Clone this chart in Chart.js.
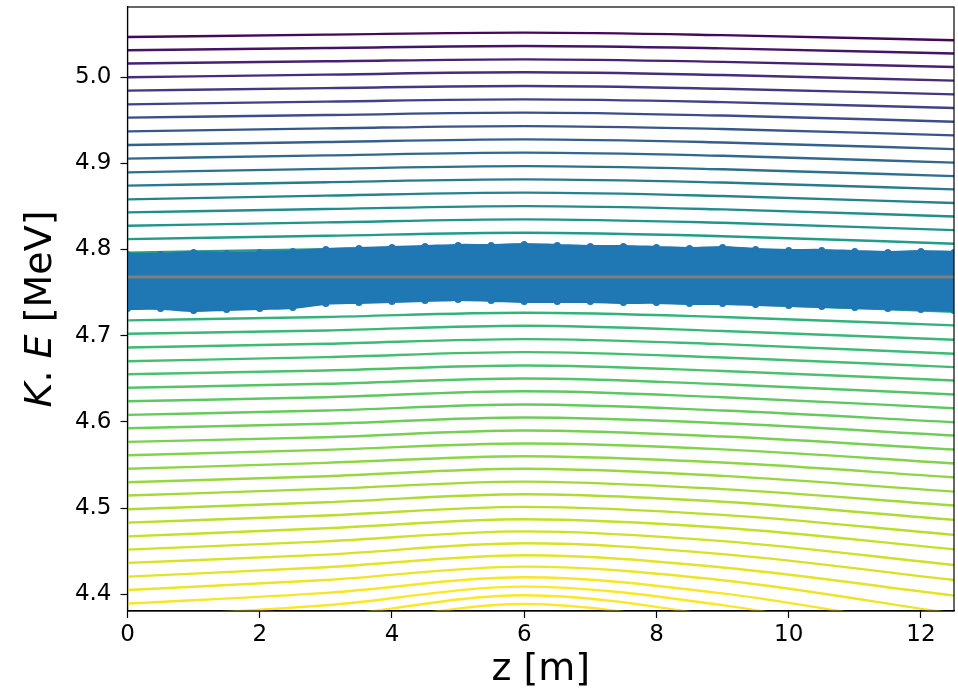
<!DOCTYPE html>
<html>
<head>
<meta charset="utf-8">
<script src="https://cdn.jsdelivr.net/npm/chart.js@4.4.1/dist/chart.umd.min.js"></script>
<style>
  html, body { margin: 0; padding: 0; background: #fff; }
</style>
</head>
<body>
<canvas id="chart" width="958" height="697"></canvas>
<script>
const Z_POINTS = [0, 3, 6, 9, 12.5];

// K.E [MeV] of every contour line (top to bottom) at each z position
const E_Z0 = [
  5.0464, 5.0310, 5.0156, 4.9997, 4.9842, 4.9683, 4.9529, 4.9370, 4.9211, 4.9053,
  4.8894, 4.8740, 4.8581, 4.8430, 4.8275, 4.8120, 4.7963, 4.7806, 4.7649, 4.7491,
  4.7334, 4.7177, 4.7022, 4.6863, 4.6704, 4.6553, 4.6396, 4.6240, 4.6082, 4.5927,
  4.5769, 4.5613, 4.5456, 4.5300, 4.5146, 4.4987, 4.4832, 4.4673, 4.4519, 4.4365,
  4.4206, 4.4051, 4.3892, 4.3730, 4.3567, 4.3405
];
const E_Z3 = [
  5.0492, 5.0337, 5.0182, 5.0028, 4.9871, 4.9715, 4.9559, 4.9404, 4.9247, 4.9091,
  4.8935, 4.8780, 4.8624, 4.8469, 4.8314, 4.8159, 4.8004, 4.7848, 4.7693, 4.7537,
  4.7382, 4.7217, 4.7061, 4.6906, 4.6751, 4.6596, 4.6442, 4.6286, 4.6132, 4.5978,
  4.5822, 4.5676, 4.5525, 4.5370, 4.5223, 4.5068, 4.4914, 4.4766, 4.4615, 4.4461,
  4.4314, 4.4167, 4.4017, 4.3873, 4.3741, 4.3614
];
const E_Z6 = [
  5.0515, 5.0360, 5.0205, 5.0055, 4.9896, 4.9741, 4.9587, 4.9431, 4.9277, 4.9123,
  4.8967, 4.8813, 4.8659, 4.8503, 4.8349, 4.8194, 4.8040, 4.7887, 4.7734, 4.7579,
  4.7425, 4.7266, 4.7115, 4.6960, 4.6809, 4.6654, 4.6503, 4.6356, 4.6202, 4.6051,
  4.5900, 4.5749, 4.5602, 4.5456, 4.5308, 4.5161, 4.5015, 4.4871, 4.4731, 4.4592,
  4.4453, 4.4322, 4.4198, 4.4090, 4.3989, 4.3889
];
const E_Z9 = [
  5.0486, 5.0332, 5.0176, 5.0023, 4.9864, 4.9709, 4.9553, 4.9397, 4.9241, 4.9086,
  4.8930, 4.8776, 4.8620, 4.8465, 4.8309, 4.8154, 4.7998, 4.7843, 4.7688, 4.7533,
  4.7377, 4.7217, 4.7055, 4.6902, 4.6747, 4.6591, 4.6437, 4.6286, 4.6132, 4.5985,
  4.5830, 4.5682, 4.5529, 4.5374, 4.5221, 4.5074, 4.4922, 4.4772, 4.4618, 4.4467,
  4.4312, 4.4164, 4.4011, 4.3875, 4.3736, 4.3602
];
const E_Z12_5 = [
  5.0426, 5.0272, 5.0116, 4.9958, 4.9799, 4.9640, 4.9482, 4.9323, 4.9164, 4.9007,
  4.8851, 4.8697, 4.8538, 4.8383, 4.8224, 4.8067, 4.7908, 4.7750, 4.7592, 4.7435,
  4.7278, 4.7119, 4.6953, 4.6790, 4.6635, 4.6480, 4.6318, 4.6159, 4.5996, 4.5842,
  4.5680, 4.5517, 4.5358, 4.5192, 4.5030, 4.4864, 4.4690, 4.4523, 4.4341, 4.4167,
  4.3985, 4.3776, 4.3579, 4.3382, 4.3184, 4.2987
];

// particle band: outer dots along the upper and lower edge
const BAND_Z = [0, 0.5, 1, 1.5, 2, 2.5, 3, 3.5, 4, 4.5, 5, 5.5, 6, 6.5, 7, 7.5, 8, 8.5, 9, 9.5, 10, 10.5, 11, 11.5, 12, 12.5];
const BAND_TOP = [
  4.7942, 4.7942, 4.7966, 4.7954, 4.7966, 4.7977, 4.8000, 4.8012, 4.8024, 4.8035,
  4.8047, 4.8047, 4.8058, 4.8047, 4.8035, 4.8035, 4.8024, 4.8012, 4.8024, 4.8000,
  4.7989, 4.7989, 4.7977, 4.7966, 4.7977, 4.7966
];
const BAND_BOTTOM = [
  4.7316, 4.7316, 4.7293, 4.7304, 4.7316, 4.7328, 4.7374, 4.7386, 4.7397, 4.7409,
  4.7420, 4.7409, 4.7397, 4.7397, 4.7397, 4.7386, 4.7386, 4.7374, 4.7374, 4.7362,
  4.7351, 4.7339, 4.7328, 4.7316, 4.7304, 4.7293
];

// synchronous (reference) energy line
const REF_Z = [0, 12.5];
const REF_E = [4.768, 4.768];

const X_TICKS = [0, 2, 4, 6, 8, 10, 12];
const Y_TICKS = [4.4, 4.5, 4.6, 4.7, 4.8, 4.9, 5.0];

const FONT = 'DejaVu Sans';

// viridis anchors, t = 0 .. 1 in steps of 0.1
const VIRIDIS = ['#440154', '#482475', '#414487', '#355f8d', '#2a788e', '#21918c',
                 '#22a884', '#44bf70', '#7ad151', '#bddf26', '#fde725'];

function viridis(t) {
  t = Math.max(0, Math.min(1, t));
  const p = t * 10, i = Math.min(9, Math.floor(p)), f = p - i;
  const a = VIRIDIS[i], b = VIRIDIS[i + 1];
  const ch = (h, o) => parseInt(h.substr(o, 2), 16);
  const mix = o => Math.round(ch(a, o) + (ch(b, o) - ch(a, o)) * f);
  return `rgb(${mix(1)},${mix(3)},${mix(5)})`;
}

// colour position of line k (colours change faster in the upper lines)
function lineColor(k) {
  return viridis(k <= 15 ? 0.02 + 0.0353 * k : 0.55 + (k - 15) * 0.0163);
}

const columns = [E_Z0, E_Z3, E_Z6, E_Z9, E_Z12_5];
const datasets = [];

// drawn on top: reference line, then the particle band
datasets.push({
  data: REF_Z.map((z, i) => ({ x: z, y: REF_E[i] })),
  borderColor: '#7f7f7f', borderWidth: 3, pointRadius: 0, fill: false, order: 0
});
datasets.push({
  data: BAND_Z.map((z, i) => ({ x: z, y: BAND_TOP[i] })),
  borderColor: '#1f77b4', backgroundColor: '#1f77b4', borderWidth: 3,
  pointRadius: 3.5, pointBackgroundColor: '#1f77b4', pointBorderWidth: 0,
  tension: 0.3, fill: '+1', order: 1
});
datasets.push({
  data: BAND_Z.map((z, i) => ({ x: z, y: BAND_BOTTOM[i] })),
  borderColor: '#1f77b4', borderWidth: 3,
  pointRadius: 3.5, pointBackgroundColor: '#1f77b4', pointBorderWidth: 0,
  tension: 0.3, fill: false, order: 1
});

E_Z0.forEach((_, k) => {
  datasets.push({
    data: Z_POINTS.map((z, j) => ({ x: z, y: columns[j][k] })),
    borderColor: lineColor(k), borderWidth: 2.4, pointRadius: 0,
    cubicInterpolationMode: 'monotone', fill: false, order: 2
  });
});

// frame round the plot area
const frame = {
  id: 'frame',
  afterDatasetsDraw(chart) {
    const { ctx, chartArea: a } = chart;
    ctx.save();
    ctx.strokeStyle = '#000';
    ctx.lineWidth = 1.2;
    ctx.strokeRect(a.left, a.top, a.right - a.left, a.bottom - a.top);
    ctx.restore();
  }
};

// y title with italic K and E like matplotlib mathtext
const yTitle = {
  id: 'yTitle',
  afterDraw(chart) {
    const { ctx, chartArea: a } = chart;
    const size = 38;
    const parts = [['italic', 'K'], ['normal', '. '], ['italic', 'E'], ['normal', ' [MeV]']];
    ctx.save();
    ctx.fillStyle = '#000';
    ctx.textBaseline = 'alphabetic';
    let total = 0;
    parts.forEach(p => { ctx.font = `${p[0]} ${size}px ${FONT}`; total += ctx.measureText(p[1]).width; });
    ctx.translate(51, (a.top + a.bottom) / 2);
    ctx.rotate(-Math.PI / 2);
    let x = -total / 2;
    parts.forEach(p => {
      ctx.font = `${p[0]} ${size}px ${FONT}`;
      ctx.fillText(p[1], x, 0);
      x += ctx.measureText(p[1]).width;
    });
    ctx.restore();
  }
};

new Chart(document.getElementById('chart'), {
  type: 'line',
  data: { datasets },
  plugins: [frame, yTitle],
  options: {
    responsive: false,
    animation: false,
    layout: { padding: { top: 7, right: 4, left: 0, bottom: 0 } },
    plugins: { legend: { display: false }, tooltip: { enabled: false } },
    scales: {
      x: {
        type: 'linear', min: 0, max: 12.5,
        afterBuildTicks: ax => { ax.ticks = X_TICKS.map(v => ({ value: v })); },
        afterFit: s => { s.height = 86; s.paddingLeft = 0; s.paddingRight = 0; },
        ticks: { color: '#000', font: { family: FONT, size: 23 }, padding: 3, maxRotation: 0 },
        grid: { drawOnChartArea: false, drawTicks: true, tickLength: 7, tickColor: '#000', tickWidth: 1.2 },
        border: { color: '#000', width: 1.2 },
        title: { display: true, text: 'z [m]', color: '#000', font: { family: FONT, size: 38 }, padding: { top: 0 } }
      },
      y: {
        type: 'linear', min: 4.3807, max: 5.0812,
        afterBuildTicks: ax => { ax.ticks = Y_TICKS.map(v => ({ value: v })); },
        afterFit: s => { s.width = 127.5; s.paddingTop = 0; s.paddingBottom = 0; },
        ticks: { color: '#000', font: { family: FONT, size: 23 }, padding: 9, callback: v => v.toFixed(1) },
        grid: { drawOnChartArea: false, drawTicks: true, tickLength: 7, tickColor: '#000', tickWidth: 1.2 },
        border: { color: '#000', width: 1.2 }
      }
    }
  }
});
</script>
</body>
</html>
